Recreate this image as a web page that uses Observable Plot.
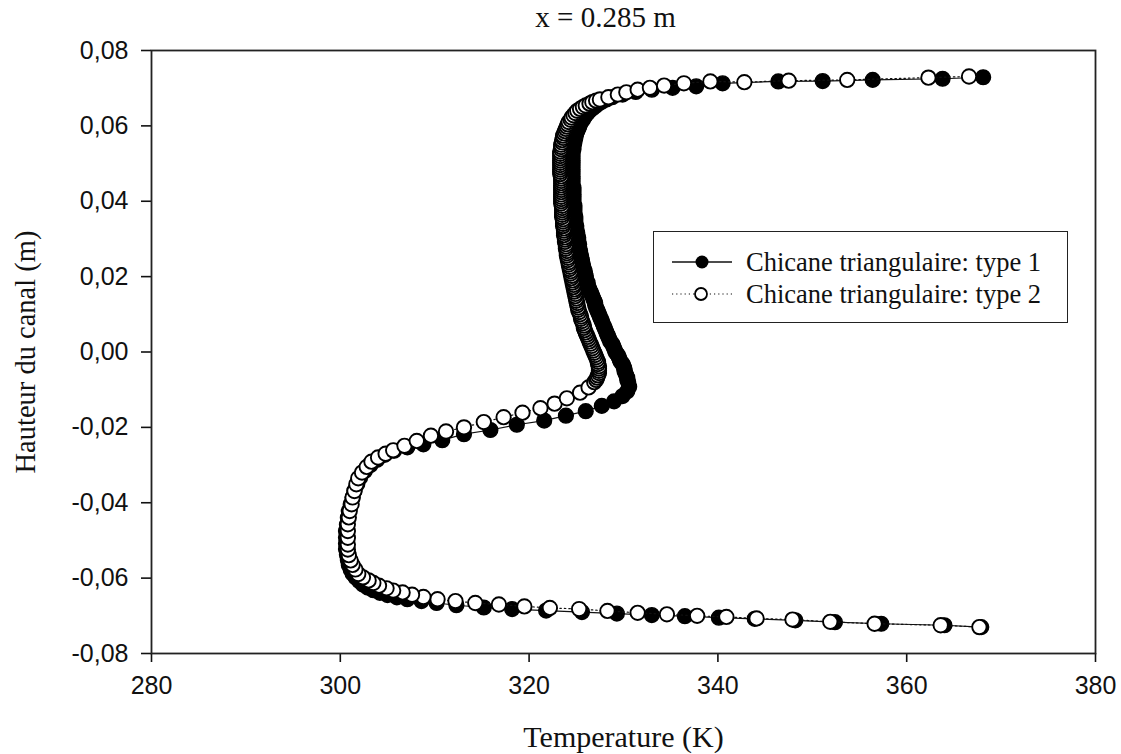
<!DOCTYPE html>
<html>
<head>
<meta charset="utf-8">
<script src="https://cdn.jsdelivr.net/npm/d3@7"></script>
<script src="https://cdn.jsdelivr.net/npm/@observablehq/plot@0.6"></script>
<style>
  html, body { margin: 0; padding: 0; background: #fff; }
  #wrap { position: relative; width: 1121px; height: 754px; overflow: hidden; }
  #legend { position: absolute; left: 653px; top: 231px; width: 413px; height: 90px;
    border: 1.8px solid #222; background: #fff; font-family: "Liberation Serif", "Times New Roman", serif;
    font-size: 26.5px; color: #111; }
  .row { position: absolute; left: 0; height: 34px; display: flex; align-items: center; }
  .row svg { display: block; margin-left: 16px; }
  .row span { margin-left: 12px; white-space: nowrap; }
</style>
</head>
<body>
<div id="wrap"></div>
<script>
// ---- data ----
const title = "x = 0.285 m";
const xLabel = "Temperature (K)";
const yLabel = "Hauteur du canal (m)";
const seriesNames = ["Chicane triangulaire: type 1", "Chicane triangulaire: type 2"];
const xTicks = [280, 300, 320, 340, 360, 380];
const yTicks = [-0.08, -0.06, -0.04, -0.02, 0, 0.02, 0.04, 0.06, 0.08];

// type 1 (filled circles) : temperature (K), from the lower wall to the upper wall
const T1 = [
367.9,364.0,357.3,352.4,348.2,343.9,340.1,336.5,333.0,329.3,325.6,321.8,318.2,315.2,312.3,310.2,308.6,307.1,306.0,305.0,
304.2,303.5,302.9,302.4,302.0,301.6,301.3,301.1,300.9,300.8,300.7,300.6,300.6,300.6,300.6,300.7,300.8,300.9,301.1,301.3,
301.5,301.8,302.1,302.6,303.2,303.9,304.7,305.7,307.1,308.8,310.8,313.1,315.9,318.7,321.6,323.9,326.0,327.7,329.0,329.9,
330.4,330.6,
330.5,330.4,330.4,330.3,330.2,330.1,330.1,330.0,329.9,329.7,
329.6,329.5,329.4,329.2,329.1,329.0,328.9,328.8,328.6,328.5,
328.4,328.3,328.2,328.1,328.0,327.9,327.8,327.7,327.6,327.5,
327.4,327.3,327.2,327.1,327.0,327.0,326.9,326.8,326.7,326.6,
326.5,326.4,326.3,326.2,326.2,326.1,326.0,326.0,325.9,325.9,
325.8,325.7,325.7,325.6,325.6,325.5,325.5,325.4,325.4,325.3,
325.3,325.3,325.2,325.2,325.2,325.1,325.1,325.0,325.0,325.0,
324.9,324.9,324.9,324.9,324.8,324.8,324.8,324.8,324.8,324.7,
324.7,324.7,324.7,324.7,324.7,324.7,324.7,324.6,324.6,324.6,
324.6,324.6,324.6,324.6,324.6,324.6,324.6,324.6,324.6,324.6,
324.6,324.6,324.6,324.7,324.7,324.7,324.8,324.8,324.9,324.9,
325.0,
325.1,325.2,325.3,325.4,325.5,325.7,325.8,326.0,326.2,326.4,326.7,327.0,327.3,327.7,328.2,328.8,329.9,331.3,333.0,335.2,
337.7,340.5,346.4,351.1,356.4,363.8,368.1];
// type 1 : channel height (m)
const Y1 = [
-0.0730,-0.0725,-0.0721,-0.0717,-0.0712,-0.0708,-0.0705,-0.0701,-0.0698,-0.0694,-0.0690,-0.0686,-0.0682,-0.0678,-0.0672,-0.0666,-0.0661,-0.0656,-0.0651,-0.0645,
-0.0639,-0.0632,-0.0625,-0.0617,-0.0608,-0.0598,-0.0588,-0.0577,-0.0565,-0.0552,-0.0538,-0.0523,-0.0508,-0.0492,-0.0475,-0.0458,-0.0440,-0.0422,-0.0404,-0.0386,
-0.0368,-0.0350,-0.0333,-0.0316,-0.0300,-0.0286,-0.0273,-0.0262,-0.0253,-0.0245,-0.0234,-0.0218,-0.0207,-0.0193,-0.0182,-0.0169,-0.0157,-0.0143,-0.0131,-0.0117,
-0.0104,-0.0092,
-0.0080,-0.0074,-0.0068,-0.0062,-0.0056,-0.0050,-0.0044,-0.0038,-0.0032,-0.0026,
-0.0020,-0.0014,-0.0008,-0.0002,0.0004,0.0010,0.0016,0.0022,0.0028,0.0034,
0.0040,0.0046,0.0052,0.0058,0.0064,0.0070,0.0076,0.0082,0.0088,0.0094,
0.0100,0.0106,0.0112,0.0118,0.0124,0.0130,0.0136,0.0142,0.0148,0.0154,
0.0160,0.0166,0.0172,0.0178,0.0184,0.0190,0.0196,0.0202,0.0208,0.0214,
0.0220,0.0226,0.0232,0.0238,0.0244,0.0250,0.0256,0.0262,0.0268,0.0274,
0.0280,0.0286,0.0292,0.0298,0.0304,0.0310,0.0316,0.0322,0.0328,0.0334,
0.0340,0.0346,0.0352,0.0358,0.0364,0.0370,0.0376,0.0382,0.0388,0.0394,
0.0400,0.0406,0.0412,0.0418,0.0424,0.0430,0.0436,0.0442,0.0448,0.0454,
0.0460,0.0466,0.0472,0.0478,0.0484,0.0490,0.0496,0.0502,0.0508,0.0514,
0.0520,0.0526,0.0532,0.0538,0.0544,0.0550,0.0556,0.0562,0.0568,0.0574,
0.0580,
0.0586,0.0592,0.0598,0.0604,0.0610,0.0616,0.0622,0.0628,0.0634,0.0640,0.0646,0.0652,0.0658,0.0664,0.0670,0.0676,0.0683,0.0690,0.0696,0.0701,
0.0705,0.0713,0.0718,0.0719,0.0722,0.0725,0.0729];

// type 2 (open circles) : temperature (K), from the lower wall to the upper wall
const T2 = [
367.7,363.6,356.6,351.9,347.9,344.1,340.9,337.8,334.6,331.5,328.3,325.3,322.2,319.5,316.8,314.3,312.2,310.3,308.8,307.6,
306.6,305.6,304.9,304.1,303.5,303.0,302.4,301.9,301.6,301.3,301.1,300.9,300.8,300.8,300.8,300.8,300.8,300.9,301.0,301.2,
301.3,301.5,301.7,301.9,302.3,302.8,303.3,304.0,304.8,305.6,306.8,308.1,309.6,311.2,313.1,315.2,317.3,319.3,321.2,322.7,
324.0,325.4,326.3,326.9,327.1,327.2,
327.3,327.4,327.4,327.4,327.4,327.3,327.3,327.2,327.1,327.0,
326.9,326.8,326.7,326.6,326.5,326.4,326.3,326.2,326.1,326.0,
325.9,325.8,325.8,325.7,325.6,325.5,325.5,325.4,325.3,325.2,
325.2,325.1,325.1,325.0,325.0,324.9,324.9,324.8,324.8,324.7,
324.7,324.6,324.6,324.5,324.5,324.4,324.4,324.3,324.3,324.2,
324.2,324.1,324.1,324.0,324.0,324.0,323.9,323.9,323.9,323.8,
323.8,323.8,323.7,323.7,323.7,323.7,323.6,323.6,323.6,323.6,
323.5,323.5,323.5,323.5,323.5,323.5,323.4,323.4,323.4,323.4,
323.4,323.4,323.4,323.4,323.4,323.4,323.4,323.4,323.4,323.3,
323.3,323.3,323.3,323.3,323.3,323.3,323.3,323.3,323.3,323.3,
323.4,323.4,323.4,323.5,323.5,323.6,323.6,323.7,
323.8,323.9,324.0,324.1,324.2,324.4,324.5,324.7,324.9,325.1,325.4,325.7,326.0,326.4,326.7,327.1,327.5,328.4,329.4,330.3,
331.5,332.8,334.3,336.4,339.2,342.8,347.5,353.7,362.3,366.6];
// type 2 : channel height (m)
const Y2 = [
-0.0730,-0.0725,-0.0721,-0.0716,-0.0710,-0.0707,-0.0703,-0.0700,-0.0696,-0.0692,-0.0687,-0.0682,-0.0679,-0.0675,-0.0670,-0.0666,-0.0661,-0.0656,-0.0650,-0.0644,
-0.0638,-0.0633,-0.0627,-0.0620,-0.0613,-0.0606,-0.0598,-0.0589,-0.0577,-0.0565,-0.0553,-0.0539,-0.0524,-0.0511,-0.0493,-0.0475,-0.0457,-0.0439,-0.0422,-0.0404,
-0.0386,-0.0369,-0.0351,-0.0335,-0.0320,-0.0305,-0.0291,-0.0280,-0.0270,-0.0261,-0.0249,-0.0236,-0.0222,-0.0211,-0.0200,-0.0186,-0.0173,-0.0161,-0.0149,-0.0137,
-0.0123,-0.0108,-0.0094,-0.0080,-0.0074,-0.0068,
-0.0062,-0.0056,-0.0050,-0.0044,-0.0038,-0.0032,-0.0026,-0.0020,-0.0014,-0.0008,
-0.0002,0.0004,0.0010,0.0016,0.0022,0.0028,0.0034,0.0040,0.0046,0.0052,
0.0058,0.0064,0.0070,0.0076,0.0082,0.0088,0.0094,0.0100,0.0106,0.0112,
0.0118,0.0124,0.0130,0.0136,0.0142,0.0148,0.0154,0.0160,0.0166,0.0172,
0.0178,0.0184,0.0190,0.0196,0.0202,0.0208,0.0214,0.0220,0.0226,0.0232,
0.0238,0.0244,0.0250,0.0256,0.0262,0.0268,0.0274,0.0280,0.0286,0.0292,
0.0298,0.0304,0.0310,0.0316,0.0322,0.0328,0.0334,0.0340,0.0346,0.0352,
0.0358,0.0364,0.0370,0.0376,0.0382,0.0388,0.0394,0.0400,0.0406,0.0412,
0.0418,0.0424,0.0430,0.0436,0.0442,0.0448,0.0454,0.0460,0.0466,0.0472,
0.0478,0.0484,0.0490,0.0496,0.0502,0.0508,0.0514,0.0520,0.0526,0.0532,
0.0538,0.0544,0.0550,0.0556,0.0562,0.0568,0.0574,0.0580,
0.0586,0.0592,0.0598,0.0604,0.0610,0.0616,0.0622,0.0628,0.0634,0.0640,0.0645,0.0650,0.0654,0.0659,0.0663,0.0667,0.0670,0.0676,0.0683,0.0689,
0.0696,0.0701,0.0707,0.0713,0.0718,0.0716,0.0720,0.0722,0.0728,0.0731];

// ---- build tables ----
const n1 = Math.min(T1.length, Y1.length), n2 = Math.min(T2.length, Y2.length);
const data1 = T1.slice(0, n1).map((t, i) => ({T: t, y: Y1[i]}));
const data2 = T2.slice(0, n2).map((t, i) => ({T: t, y: Y2[i]}));
const fmtY = d => d.toFixed(2).replace(".", ",");
const sans = "'Liberation Sans', Arial, sans-serif";
const serif = "'Liberation Serif', 'Times New Roman', serif";

const chart = Plot.plot({
  width: 1121,
  height: 754,
  marginLeft: 151,
  marginRight: 26,
  marginTop: 50,
  marginBottom: 101,
  style: {background: "#fff", color: "#111", overflow: "visible"},
  x: {domain: [280, 380]},
  y: {domain: [-0.08, 0.08]},
  marks: [
    Plot.axisX({ticks: xTicks, tickSize: 9, tickPadding: 14, fontSize: 25, fontFamily: sans, strokeWidth: 1.6, label: null}),
    Plot.axisY({ticks: yTicks, tickSize: 10, tickPadding: 13, fontSize: 25, fontFamily: sans, strokeWidth: 1.6, tickFormat: fmtY, label: null}),
    Plot.line(data1, {x: "T", y: "y", stroke: "#111", strokeWidth: 1.2}),
    Plot.dot(data1, {x: "T", y: "y", r: 7.4, fill: "#000", stroke: "#000", strokeWidth: 1.4}),
    Plot.line(data2, {x: "T", y: "y", stroke: "#111", strokeWidth: 1.2, strokeDasharray: "1.5,3"}),
    Plot.dot(data2, {x: "T", y: "y", r: 7.2, fill: "#fff", stroke: "#000", strokeWidth: 1.9}),
    Plot.frame({stroke: "#222", strokeWidth: 1.8}),
    Plot.text([title], {text: d => d, frameAnchor: "top", lineAnchor: "middle", textAnchor: "middle", dx: -18, dy: -33, fontSize: 29, fontFamily: serif, fill: "#111"}),
    Plot.text([xLabel], {text: d => d, frameAnchor: "bottom", lineAnchor: "middle", textAnchor: "middle", dy: 84, fontSize: 30, fontFamily: serif, fill: "#111"}),
    Plot.text([yLabel], {text: d => d, frameAnchor: "left", lineAnchor: "middle", textAnchor: "middle", dx: -126, rotate: -90, fontSize: 28.5, fontFamily: serif, fill: "#111"})
  ]
});

const wrap = document.getElementById("wrap");
wrap.appendChild(chart);

// legend (overlay box inside the plot area)
const legend = document.createElement("div");
legend.id = "legend";
const symbols = [
  `<svg width="64" height="20"><line x1="2" y1="10" x2="62" y2="10" stroke="#111" stroke-width="1.5"/><circle cx="32" cy="10" r="6.5" fill="#000"/></svg>`,
  `<svg width="64" height="20"><line x1="2" y1="10" x2="62" y2="10" stroke="#111" stroke-width="1.2" stroke-dasharray="1.2,3"/><circle cx="31" cy="10" r="6" fill="#fff" stroke="#000" stroke-width="1.8"/></svg>`
];
seriesNames.forEach((name, i) => {
  const row = document.createElement("div");
  row.className = "row";
  row.style.top = (i === 0 ? 13 : 45) + "px";
  row.innerHTML = symbols[i] + `<span>${name}</span>`;
  legend.appendChild(row);
});
wrap.appendChild(legend);
</script>
</body>
</html>
